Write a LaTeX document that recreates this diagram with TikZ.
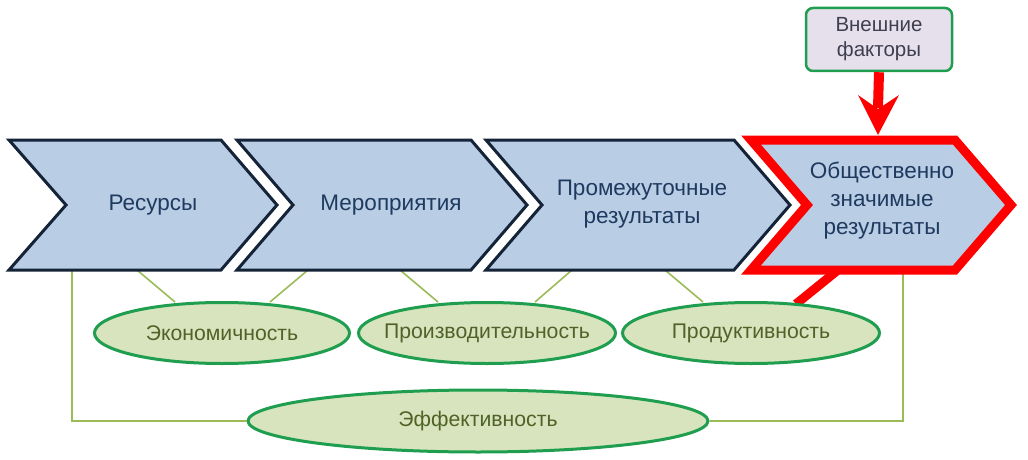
\documentclass[tikz,border=0pt]{standalone}
\usepackage{fontspec}
\setmainfont{Liberation Sans}
\definecolor{chfill}{HTML}{B9CDE5}
\definecolor{chborder}{HTML}{142338}
\definecolor{chtext}{HTML}{1F3A5F}
\definecolor{elfill}{HTML}{D7E4BD}
\definecolor{elborder}{HTML}{1E9E4E}
\definecolor{eltext}{HTML}{4F6228}
\definecolor{glink}{HTML}{9BBB59}
\definecolor{boxfill}{HTML}{E6E0EC}
\definecolor{boxtext}{HTML}{3F3F50}
\definecolor{redc}{HTML}{FF0000}
\tikzset{
  chev/.style={fill=chfill, draw=chborder, line width=3pt, line join=miter},
  chevred/.style={fill=chfill, draw=redc, line width=9pt, line join=miter},
  chlabel/.style={text=chtext, font=\fontsize{22.5}{28}\selectfont, align=center},
  ell/.style={ellipse, fill=elfill, draw=elborder, line width=3pt, inner sep=0pt},
  elltext/.style={text=eltext, font=\fontsize{21.2}{24}\selectfont},
  glinkst/.style={draw=glink, line width=1.6pt},
  extbox/.style={rounded corners=7pt, fill=boxfill, draw=elborder, line width=2.5pt,
     text=boxtext, font=\fontsize{20.5}{25}\selectfont, align=center,
     minimum width=146pt, minimum height=63pt, inner sep=0pt}
}
\usetikzlibrary{shapes.geometric}
\begin{document}
\begin{tikzpicture}[x=1pt,y=-1pt]
\useasboundingbox (0,0) rectangle (1028,460);
% green links
\coordinate (r1) at (72,270);
\coordinate (r2) at (903,270);
\node[ell, minimum width=460pt, minimum height=62pt, label={[elltext]center:Эффективность}] (eff) at (478,421) {};
\draw[glinkst] (r1) |- (eff.west);
\draw[glinkst] (r2) |- (eff.east);
\node[ell, minimum width=255pt, minimum height=61pt, label={[elltext]center:Экономичность}] (eco) at (222,333) {};
\node[ell, minimum width=257pt, minimum height=61pt, label={[elltext]center:Производительность}] (pro) at (487,333) {};
\coordinate (a1) at (137,270); \coordinate (b1) at (175,302);
\coordinate (a2) at (308,270); \coordinate (b2) at (270,302);
\coordinate (a3) at (400,270); \coordinate (b3) at (438,302);
\coordinate (a4) at (572,270); \coordinate (b4) at (535,302);
\coordinate (a5) at (665,270); \coordinate (b5) at (703,302);
\draw[glinkst] (a1) -- (b1) (a2) -- (b2) (a3) -- (b3) (a4) -- (b4) (a5) -- (b5);
% red link
\coordinate (rl1) at (838,270); \coordinate (rl2) at (796,304);
\draw[redc, line width=9pt] (rl1) -- (rl2);
% chevrons
\draw[chev] (9,140) -- (221,140) -- (277,205) -- (221,270) -- (9,270) -- (66,205) -- cycle;
\node[chlabel] (res) at (153,205) {Ресурсы};
\draw[chev] (237,140) -- (471,140) -- (527,205) -- (471,270) -- (237,270) -- (293,205) -- cycle;
\node[chlabel] (mer) at (391,205) {Мероприятия};
\draw[chev] (486,140) -- (734,140) -- (790,205) -- (734,270) -- (486,270) -- (542,205) -- cycle;
\node[chlabel] (int) at (642,204) {Промежуточные\\результаты};
\draw[chevred] (751,140) -- (955,140) -- (1011,205) -- (955,270) -- (751,270) -- (807,205) -- cycle;
\node[chlabel] (soc) at (882,201) {Общественно\\значимые\\результаты};
% ellipse over red link
\node[ell, minimum width=257pt, minimum height=61pt, label={[elltext]center:Продуктивность}] (prd) at (751,333) {};
% external factors
\node[extbox] (ext) at (879,39.5) {Внешние\\факторы};
\coordinate (tip) at (878,135);
\coordinate (neck) at (878,108);
\draw[redc, line width=10pt] (ext.south) -- (neck);
\fill[redc] (858,95) -- (878,109) -- (899,95) -- (tip) -- cycle;
\end{tikzpicture}
\end{document}
